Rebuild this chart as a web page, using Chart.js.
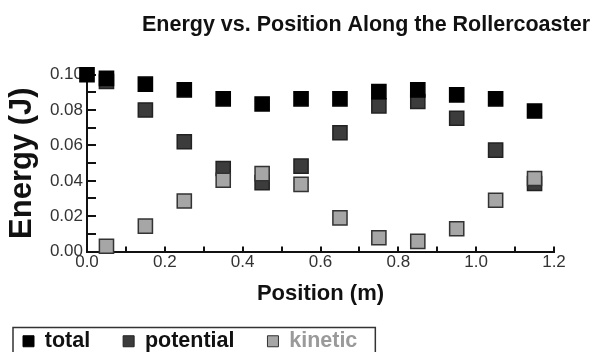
<!DOCTYPE html>
<html>
<head>
<meta charset="utf-8">
<script src="https://cdn.jsdelivr.net/npm/chart.js@4"></script>
<style>
  html, body { margin: 0; padding: 0; background: #fff; }
  #wrap { width: 595px; height: 352px; }
</style>
</head>
<body>
<div id="wrap"><canvas id="chart" width="595" height="352"></canvas></div>
<script>
var totalX = [0.0, 0.05, 0.15, 0.25, 0.35, 0.45, 0.55, 0.65, 0.75, 0.85, 0.95, 1.05, 1.15];
var totalY = [0.100, 0.098, 0.0947, 0.0915, 0.0864, 0.0835, 0.0864, 0.0864, 0.0905, 0.0915, 0.0886, 0.0864, 0.0795];
var potX = [0.05, 0.15, 0.25, 0.35, 0.45, 0.55, 0.65, 0.75, 0.85, 0.95, 1.05, 1.15];
var potY = [0.0962, 0.0801, 0.0621, 0.047, 0.039, 0.0483, 0.0672, 0.0824, 0.0849, 0.0754, 0.0574, 0.0385];
var kinX = [0.05, 0.15, 0.25, 0.35, 0.45, 0.55, 0.65, 0.75, 0.85, 0.95, 1.05, 1.15];
var kinY = [0.003, 0.0144, 0.0286, 0.0403, 0.0441, 0.038, 0.019, 0.0078, 0.0057, 0.0129, 0.029, 0.0413];

var toPoints = (xs, ys) => xs.map((x, i) => ({ x: x, y: ys[i] }));

var FONT = "'Liberation Sans', Arial, Helvetica, sans-serif";

// tick marks on both axes point into the plot, so draw them by hand
var innerTicks = {
    id: "innerTicks",
    beforeDatasetsDraw: (chart) => {
        var ctx = chart.ctx;
        var x = chart.scales.x, y = chart.scales.y;
        ctx.save();
        ctx.strokeStyle = "#111";
        ctx.lineWidth = 2;
        y.ticks.forEach((t) => {
            var py = Math.round(y.getPixelForValue(t.value));
            ctx.beginPath();
            ctx.moveTo(y.right, py);
            ctx.lineTo(y.right + 9, py);
            ctx.stroke();
        });
        x.ticks.forEach((t) => {
            var px = Math.round(x.getPixelForValue(t.value));
            ctx.beginPath();
            ctx.moveTo(px, x.top);
            ctx.lineTo(px, x.top - 5);
            ctx.stroke();
        });
        ctx.restore();
    }
};

var legendBorder = {
    id: "legendBorder",
    afterDraw: (chart) => {
        var boxes = chart.legend.legendHitBoxes;
        if (!boxes || !boxes.length) return;
        var first = boxes[0], last = boxes[boxes.length - 1];
        var ctx = chart.ctx;
        ctx.save();
        ctx.strokeStyle = "#333";
        ctx.lineWidth = 1.5;
        var left = first.left - 10;
        ctx.strokeRect(left, first.top - 3, last.left + last.width + 18 - left, 40);
        ctx.restore();
    }
};

var ds = (label, data, bg, border, order) => ({
    label: label,
    data: data,
    showLine: false,
    clip: false,
    pointStyle: "rect",
    pointRadius: 10,
    pointHoverRadius: 10,
    backgroundColor: bg,
    borderColor: border,
    borderWidth: 1.5,
    order: order
});

new Chart(document.getElementById("chart"), {
    type: "scatter",
    data: {
        datasets: [
            ds("total", toPoints(totalX, totalY), "#000000", "#000000", 0),
            ds("potential", toPoints(potX, potY), "#3c3c3c", "#222222", 2),
            ds("kinetic", toPoints(kinX, kinY), "#a6a6a6", "#333333", 1)
        ]
    },
    options: {
        animation: false,
        responsive: false,
        layout: { padding: { left: -10, right: 5, top: 0, bottom: -10 } },
        plugins: {
            title: {
                display: true,
                text: "Energy vs. Position Along the Rollercoaster",
                align: "end",
                color: "#111",
                font: { family: FONT, size: 21.5, weight: "bold" },
                padding: { top: 12, bottom: 37 }
            },
            legend: {
                display: true,
                position: "bottom",
                align: "start",
                labels: {
                    font: { family: FONT, size: 21.5, weight: "bold" },
                    color: "#111",
                    boxWidth: 11,
                    boxHeight: 11,
                    padding: 33,
                    generateLabels: (chart) => chart.data.datasets.map((d, i) => ({
                        text: d.label,
                        fillStyle: d.backgroundColor,
                        strokeStyle: d.borderColor,
                        lineWidth: 1,
                        fontColor: i === 2 ? "#9a9a9a" : "#111",
                        datasetIndex: i
                    }))
                }
            },
            tooltip: { enabled: false }
        },
        scales: {
            x: {
                type: "linear",
                min: 0,
                max: 1.2,
                border: { display: true, color: "#111", width: 2 },
                grid: { display: true, drawOnChartArea: false, drawTicks: false },
                ticks: {
                    stepSize: 0.1,
                    autoSkip: false,
                    maxRotation: 0,
                    padding: 1,
                    color: "#333",
                    font: { family: FONT, size: 17 },
                    callback: (v) => Math.round(v * 10) % 2 === 0 ? v.toFixed(1) : ""
                },
                title: {
                    display: true,
                    text: "Position (m)",
                    color: "#111",
                    font: { family: FONT, size: 22, weight: "bold" },
                    padding: { top: 0, bottom: -10 }
                },
                afterFit: (s) => { s.height = 46; }
            },
            y: {
                type: "linear",
                min: 0,
                max: 0.1,
                border: { display: true, color: "#111", width: 2 },
                grid: { display: true, drawOnChartArea: false, drawTicks: false },
                ticks: {
                    stepSize: 0.01,
                    autoSkip: false,
                    padding: 4,
                    color: "#333",
                    font: { family: FONT, size: 17 },
                    callback: (v) => Math.round(v * 100) % 2 === 0 ? v.toFixed(2) : ""
                },
                title: {
                    display: true,
                    text: "Energy (J)",
                    color: "#111",
                    font: { family: FONT, size: 31, weight: "bold" },
                    padding: { top: 14, bottom: 0 }
                },
                afterFit: (s) => { s.width = 97; }
            },
            y2: {
                position: "right",
                display: true,
                grid: { display: false },
                border: { display: false },
                ticks: { display: false },
                afterFit: (s) => { s.width = 36; }
            }
        }
    },
    plugins: [innerTicks, legendBorder]
});
</script>
</body>
</html>
